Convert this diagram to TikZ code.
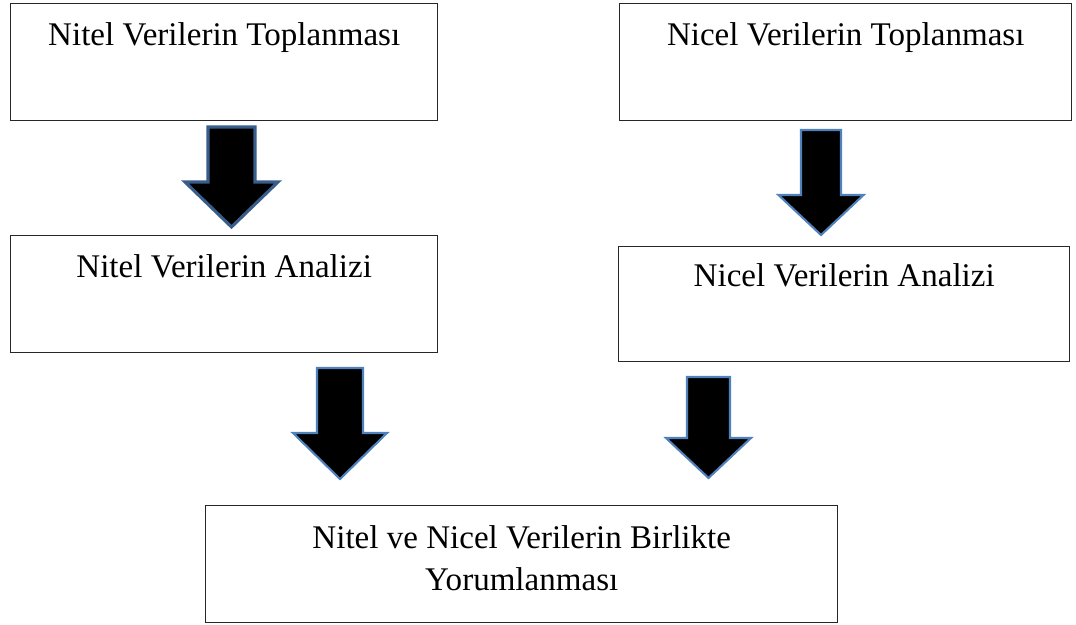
\documentclass[tikz,border=0pt]{standalone}
\usepackage{fontspec}
\setmainfont{Liberation Serif}
\usetikzlibrary{calc}
\definecolor{okkenar}{HTML}{385D8A}
\definecolor{okacik}{HTML}{4F81BD}
\def\blokok[#1](#2,#3)(#4:#5:#6:#7){\draw[#1] ({#2-#4},#3) -- ({#2+#4},#3) -- ({#2+#4},#5) -- ({#2+#6},#5) -- (#2,#7) -- ({#2-#6},#5) -- ({#2-#4},#5) -- cycle;}

\begin{document}
\begin{tikzpicture}[x=0.025cm, y=-0.025cm,
		kutu/.style={draw=black!85, line width=0.9pt, inner sep=0pt, anchor=north west,
			font=\fontsize{23.5}{30}\selectfont, text height=29.5pt, text depth=53.5pt},
		okstil/.style={fill=black, line join=miter}]
		%%%%% START %%%%%
		\useasboundingbox (0,0) rectangle (1076,624);
		
		\node[kutu, minimum width=10.675cm] (nitelTop) at (10,3) {Nitel Verilerin Toplanması};
		\node[kutu, minimum width=11.3cm] (nicelTop) at (619,3) {Nicel Verilerin Toplanması};
		
		\node[kutu, minimum width=10.675cm] (nitelAna) at (10,235) {Nitel Verilerin Analizi};
		\node[kutu, minimum width=11.275cm, text height=28.4pt, text depth=53.3pt] (nicelAna) at (618,246) {Nicel Verilerin Analizi};
		
		% iki satir: taban cizgisi son satirda
		\node[kutu, minimum width=15.8cm, align=center, text height=60.5pt, text depth=22.8pt] (birlikte) at (205,505) {Nitel ve Nicel Verilerin Birlikte\\Yorumlanması};
		
		\blokok[okstil, draw=okkenar, line width=2.2pt](231.5,127)(23.5:182:46.5:227)
		\blokok[okstil, draw=okacik, line width=1.5pt](821,130)(20:195:42.5:235)
		\blokok[okstil, draw=okacik, line width=1.5pt](340,368)(23:433:47:479)
		\blokok[okstil, draw=okacik, line width=1.5pt](708.5,377)(21.5:438:42.5:478)
		
		%%%%% END %%%%%
\end{tikzpicture}
\end{document}
